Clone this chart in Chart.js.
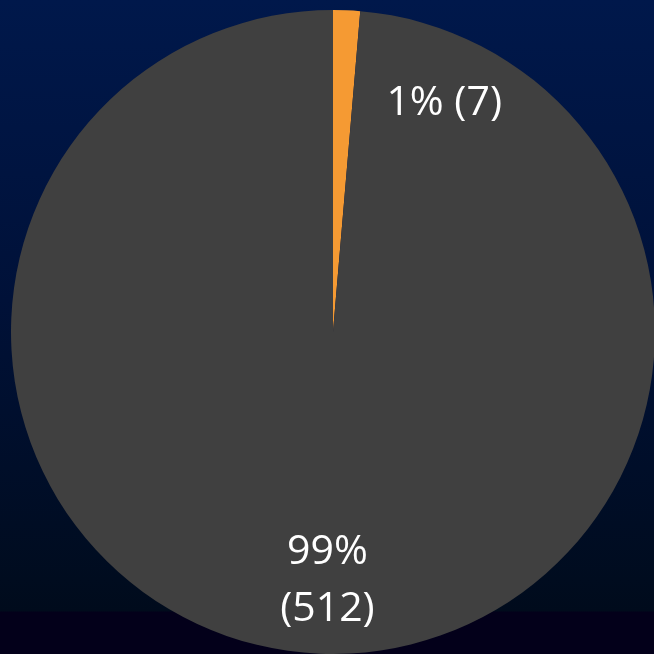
<!DOCTYPE html>
<html>
<head>
<meta charset="utf-8">
<script src="https://cdn.jsdelivr.net/npm/chart.js@4"></script>
<style>
  html, body {
    margin: 0;
    width: 654px;
    height: 654px;
    overflow: hidden;
    background: linear-gradient(to bottom, #00184b 0px, #001138 300px, #000c1f 580px, #000b1c 611px, #03001a 612px, #03001a 654px);
  }
  #wrap {
    position: absolute;
    left: 11px;
    top: 10px;
    width: 644px;
    height: 644px;
  }
</style>
</head>
<body>
<div id="wrap"><canvas id="pie"></canvas></div>
<script>
const labels = ["Yes", "No"];
const counts = [7, 512];
const percents = ["1%", "99%"];
const colors = ["#f59a33", "#404040"];

// label text per slice, drawn by hand since no datalabels plugin
const sliceLabels = {
  id: "sliceLabels",
  afterDatasetsDraw(chart) {
    const ctx = chart.ctx;
    const meta = chart.getDatasetMeta(0);
    ctx.save();
    ctx.fillStyle = "#ffffff";
    ctx.font = "41px 'Open Sans'";
    ctx.textAlign = "center";
    ctx.textBaseline = "middle";
    meta.data.forEach(function (arc, i) {
      const p = arc.getProps(["x", "y", "startAngle", "endAngle", "outerRadius"], true);
      let mid = (p.startAngle + p.endAngle) / 2;
      let dist = p.outerRadius * 0.77;
      if (i === 0) {
        mid += 0.41; // small slice label pushed aside
        dist = p.outerRadius * 0.79;
      } else {
        mid -= 0.02;
      }
      const x = p.x + Math.cos(mid) * dist;
      const y = p.y + Math.sin(mid) * dist;
      if (i === 0) {
        ctx.fillText(percents[i] + " (" + counts[i] + ")", x, y);
      } else {
        ctx.fillText(percents[i], x, y - 28);
        ctx.fillText("(" + counts[i] + ")", x, y + 29);
      }
    });
    ctx.restore();
  },
};

new Chart(document.getElementById("pie").getContext("2d"), {
  type: "pie",
  data: {
    labels: labels,
    datasets: [
      {
        data: counts,
        backgroundColor: colors,
        borderWidth: 0,
      },
    ],
  },
  options: {
    responsive: true,
    maintainAspectRatio: false,
    animation: false,
    layout: { padding: 0 },
    plugins: {
      legend: { display: false },
      tooltip: { enabled: false },
    },
  },
  plugins: [sliceLabels],
});
</script>
</body>
</html>
